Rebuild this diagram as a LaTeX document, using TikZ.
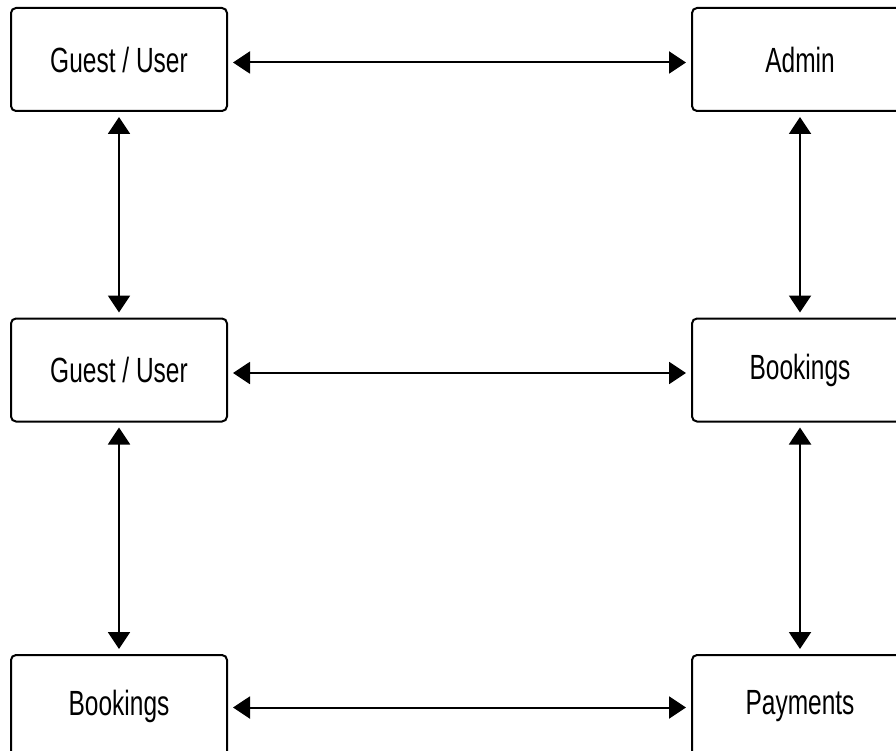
\documentclass[tikz,border=0pt]{standalone}
\usepackage{fontspec}
\setmainfont{Liberation Sans}
\usepackage{graphicx}
\usetikzlibrary{arrows.meta}
\tikzset{
  ent/.style={draw=black, line width=2pt, rounded corners=5pt, minimum width=216pt,
    minimum height=103pt, inner sep=0pt, fill=white,
    font=\fontsize{35}{40}\selectfont},
  link/.style={line width=2pt, {Triangle[length=17pt,width=22pt]}-{Triangle[length=17pt,width=22pt]},
    shorten <=5pt, shorten >=5pt}
}
\newcommand{\lbl}[1]{\scalebox{0.7}[1]{#1}}
\begin{document}
\begin{tikzpicture}[x=1pt,y=-1pt]
  \useasboundingbox (0,0) rectangle (896,751);
  \node[ent] (gu1) at (119,59.5) {\lbl{Guest / User}};
  \node[ent] (adm) at (800,59.5) {\lbl{Admin}};
  \node[ent] (gu2) at (119,370) {\lbl{Guest / User}};
  \node[ent] (bk2) at (800,370) {\lbl{Bookings}};
  \node[ent] (bk1) at (119,706.5) {\lbl{Bookings}};
  \node[ent] (pay) at (800,706.5) {\lbl{Payments}};

  \draw[link] ([yshift=-3pt]gu1.east) -- ([yshift=-3pt]adm.west);
  \draw[link] ([yshift=-3pt]gu2.east) -- ([yshift=-3pt]bk2.west);
  \draw[link] ([yshift=-1pt]bk1.east) -- ([yshift=-1pt]pay.west);

  \draw[link] (gu1.south) -- (gu2.north);
  \draw[link] (gu2.south) -- (bk1.north);
  \draw[link] (adm.south) -- (bk2.north);
  \draw[link] (bk2.south) -- (pay.north);
\end{tikzpicture}
\end{document}
